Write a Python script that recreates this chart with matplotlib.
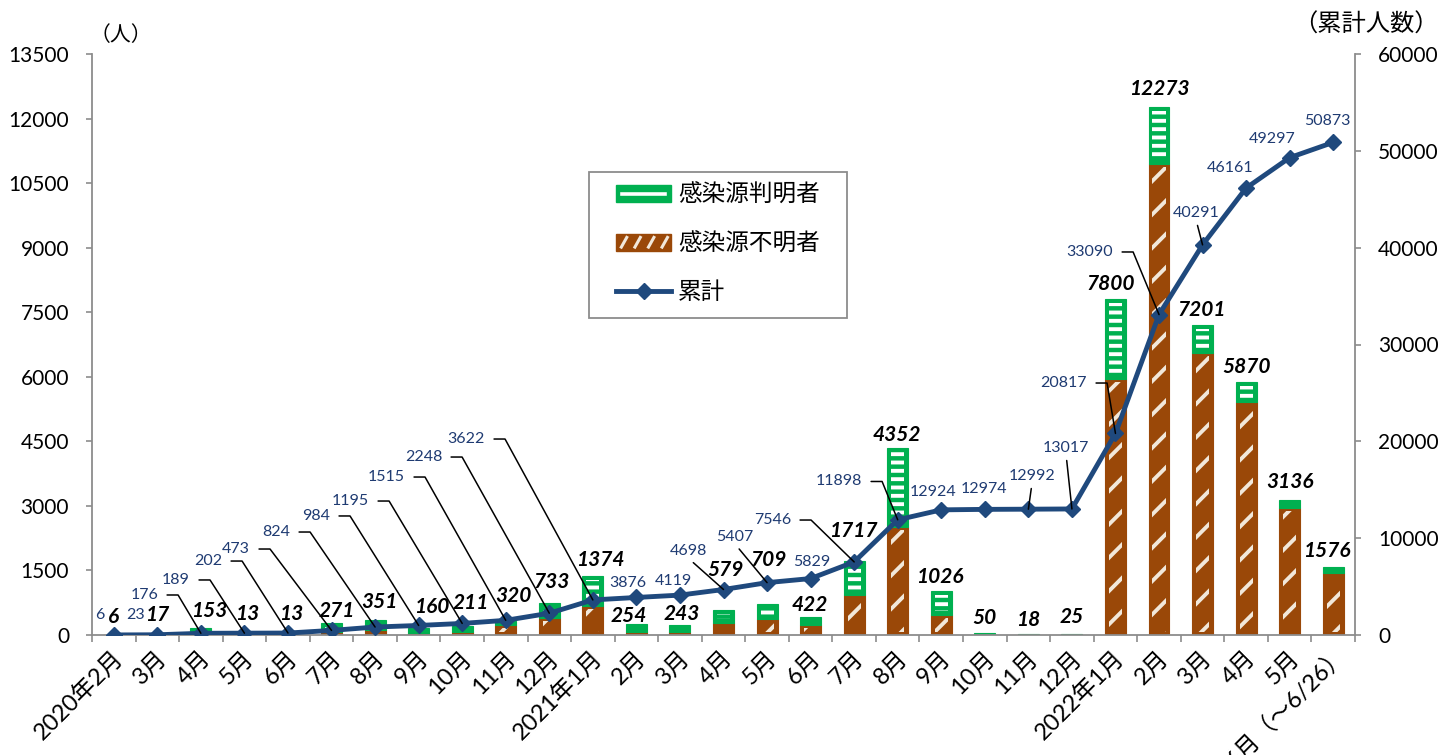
import math
import matplotlib
matplotlib.use("Agg")
import matplotlib.pyplot as plt
from matplotlib.patches import Rectangle
from matplotlib.lines import Line2D
from matplotlib.legend_handler import HandlerBase
from matplotlib.transforms import ScaledTranslation

# ---------------- data ----------------
months = ['2020年2月', '3月', '4月', '5月', '6月', '7月', '8月', '9月', '10月', '11月', '12月',
          '2021年1月', '2月', '3月', '4月', '5月', '6月', '7月', '8月', '9月', '10月', '11月', '12月',
          '2022年1月', '2月', '3月', '4月', '5月', '6月（〜6/26）']
totals = [6, 17, 153, 13, 13, 271, 351, 160, 211, 320, 733, 1374, 254, 243, 579, 709, 422,
          1717, 4352, 1026, 50, 18, 25, 7800, 12273, 7201, 5870, 3136, 1576]
unknown_src = [2, 5, 20, 4, 4, 80, 120, 40, 80, 230, 390, 670, 60, 60, 280, 370, 230,
               930, 2500, 460, 5, 2, 4, 5950, 10950, 6550, 5420, 2950, 1450]
cumulative = [6, 23, 176, 189, 202, 473, 824, 984, 1195, 1515, 2248, 3622, 3876, 4119, 4698,
              5407, 5829, 7546, 11898, 12924, 12974, 12992, 13017, 20817, 33090, 40291,
              46161, 49297, 50873]
known_src = [t - u for t, u in zip(totals, unknown_src)]

left_ticks = list(range(0, 13501, 1500))
right_ticks = list(range(0, 60001, 10000))

# ---------------- label layout (pixels) ----------------
total_off = [(0, 18), (0, 19), (8, 17), (3, 20), (3, 20), (5, 12), (4, 18), (13, 21), (9, 23),
             (8, 25), (2, 21), (7, 16), (-8, 8.5), (2, 11), (2, 40), (2, 44), (-1, 12), (-1, 30),
             (-1, 13), (-1, 14), (0, 15), (0, 14), (0, 17), (-5, 15), (0, 18), (-1, 15), (0, 15),
             (0, 18), (-6, 16)]
cum_off = [('c', -13.7, -20), ('c', -22.3, -20), ('r', -42.8, -38.3), ('r', -54.4, -53.2),
           ('r', -65.9, -72), ('r', -81.5, -81.4), ('r', -85, -95), ('r', -88.6, -109.5),
           ('r', -93.1, -122.4), ('r', -100.7, -143.3), ('r', -107.2, -156.2),
           ('r', -107.8, -160.9), ('c', -8.3, -14.5), ('c', -6.9, -14.1), ('b', -35.4, -38.5),
           ('b', -32, -45.6), ('c', 1.5, -16.6), ('r', -63.1, -41.9), ('r', -35.6, -38.3),
           ('c', -8.2, -17.9), ('c', -0.7, -20.4), ('b', 3.7, -33.2), ('b', -5.8, -61),
           ('r', -28.4, -50.4), ('r', -45.9, -62.6), ('b', -6.5, -31.9), ('c', -16, -20),
           ('c', -17.6, -18.7), ('c', -6.1, -21.4)]

PT = 0.72  # points per pixel at dpi 100

GREEN = '#00B050'
BROWN = '#9A4808'
BEIGE = '#F2E8DA'
BLUE = '#1F497D'
LBLUE = '#1F3B72'
GRAY = '#8C8C8C'
NUMF = ['Lato', 'Noto Sans CJK JP', 'DejaVu Sans']
JPF = ['Noto Sans CJK JP', 'DejaVu Sans']

plt.rcParams['font.family'] = NUMF
plt.rcParams['hatch.linewidth'] = 2.8

fig = plt.figure(figsize=(14.4, 7.55), dpi=100)
ax = fig.add_axes([92 / 1440, 1 - 635 / 755, 1263 / 1440, 581 / 755])
ax2 = ax.twinx()

x = list(range(len(months)))
W = 0.48
WI = 0.30
px_unit = 13500 / 581.0  # data units per pixel (left axis)

# brown (unknown) segment
ax.bar(x, unknown_src, width=W, color=BROWN, edgecolor=BROWN, linewidth=0.8, zorder=2)
with plt.rc_context({'hatch.color': BEIGE}):
    inner_h = [max(u - 6 * px_unit, 0) for u in unknown_src]
    inner_b = [3 * px_unit if u > 6 * px_unit else 0 for u in unknown_src]
    ax.bar(x, inner_h, bottom=inner_b, width=WI, facecolor='none', hatch='/', linewidth=0, zorder=3)

# green (known) segment
ax.bar(x, known_src, bottom=unknown_src, width=W, color=GREEN, edgecolor=GREEN, linewidth=0.8, zorder=2)
with plt.rc_context({'hatch.color': 'white'}):
    gin_h = [max(k - 8 * px_unit, 0) for k in known_src]
    gin_b = [u + 4 * px_unit for u in unknown_src]
    ax.bar(x, gin_h, bottom=gin_b, width=WI, facecolor='none', hatch='--', linewidth=0, zorder=3)

# total labels
for i, t in enumerate(totals):
    dx, dy = total_off[i]
    ax.annotate(str(t), xy=(i, t), xytext=(dx * PT, dy * PT), textcoords='offset points',
                ha='center', va='center', fontsize=15, fontweight='bold', fontstyle='italic',
                color='black', zorder=6)

# cumulative line
ax2.plot(x, cumulative, color=BLUE, lw=3.5, marker='D', ms=8.5, mec=BLUE, mfc=BLUE, zorder=5)

GAP, STUB = 9, 11
for i, c in enumerate(cumulative):
    style, dx, dy = cum_off[i]
    ox, oy = dx * PT, -dy * PT
    if style == 'c':
        ax2.annotate(str(c), xy=(i, c), xytext=(ox, oy), textcoords='offset points',
                     ha='center', va='center', fontsize=11.5, color=LBLUE, zorder=6)
    elif style == 'r':
        cx = ox + (GAP + STUB) * PT
        angB = math.degrees(math.atan2(oy, cx))
        ax2.annotate(str(c), xy=(i, c), xytext=(ox, oy), textcoords='offset points',
                     ha='right', va='center', fontsize=11.5, color=LBLUE, zorder=6,
                     arrowprops=dict(arrowstyle='-', color='black', lw=1.1,
                                     shrinkA=max(GAP * PT - 2, 0), shrinkB=0, relpos=(1, 0.5),
                                     connectionstyle=f'angle,angleA=0,angleB={angB},rad=0'))
    else:
        ax2.annotate(str(c), xy=(i, c), xytext=(ox, oy), textcoords='offset points',
                     ha='center', va='center', fontsize=11.5, color=LBLUE, zorder=6,
                     arrowprops=dict(arrowstyle='-', color='black', lw=1.1,
                                     shrinkA=2, shrinkB=0, relpos=(0.5, 0)))

# axes formatting
ax.set_xlim(-0.5, len(months) - 0.5)
ax.set_ylim(0, 13500)
ax2.set_ylim(0, 60000)
ax.set_yticks(left_ticks)
ax2.set_yticks(right_ticks)
ax.set_xticks(x)
ax.set_xticklabels(months, rotation=45, ha='right', va='center', rotation_mode='anchor',
                   fontsize=17)
ax.set_xticks([i - 0.5 for i in range(len(months) + 1)], minor=True)
ax.tick_params(axis='x', which='major', length=0, pad=14)
ax.tick_params(axis='x', which='minor', length=5, color=GRAY, width=1.2, direction='out')
ax.tick_params(axis='y', length=4.5, color=GRAY, width=1.2, labelsize=15, pad=12)
ax2.tick_params(axis='y', length=4.5, color=GRAY, width=1.2, labelsize=15, pad=12)

for a in (ax, ax2):
    a.spines['top'].set_visible(False)
    for s in ('left', 'right', 'bottom'):
        a.spines[s].set_color(GRAY)
        a.spines[s].set_linewidth(1.3)
ax2.spines['left'].set_visible(False)
ax2.spines['bottom'].set_visible(False)
ax.spines['right'].set_visible(False)

off = ScaledTranslation(6 / 100, 0, fig.dpi_scale_trans)
off_last = ScaledTranslation(10 / 100, 4 / 100, fig.dpi_scale_trans)
labs = ax.get_xticklabels()
for k, lab in enumerate(labs):
    lab.set_transform(lab.get_transform() + (off_last if k == len(labs) - 1 else off))

# unit labels
fig.text(121 / 1440, 1 - 35 / 755, '（人）', ha='center', va='center', fontsize=15, family=JPF)
fig.text(1366 / 1440, 1 - 25 / 755, '（累計人数）', ha='center', va='center', fontsize=17.5, family=JPF)


# legend handlers
class HandlerKnown(HandlerBase):
    def create_artists(self, legend, orig_handle, xdescent, ydescent, width, height, fontsize, trans):
        x0, y0 = -xdescent, -ydescent
        r = Rectangle((x0, y0), width, height, facecolor=GREEN, edgecolor=GREEN, lw=1,
                      transform=trans)
        ln = Line2D([x0 + width * 0.1, x0 + width * 0.9], [y0 + height / 2] * 2,
                    color='white', lw=2.6, transform=trans)
        return [r, ln]


class HandlerUnknown(HandlerBase):
    def create_artists(self, legend, orig_handle, xdescent, ydescent, width, height, fontsize, trans):
        x0, y0 = -xdescent, -ydescent
        arts = [Rectangle((x0, y0), width, height, facecolor=BROWN, edgecolor=BROWN, lw=1,
                          transform=trans)]
        for k in range(4):
            cx = x0 + width * (0.14 + 0.25 * k)
            arts.append(Line2D([cx - width * 0.05, cx + width * 0.05],
                               [y0 + height * 0.22, y0 + height * 0.78],
                               color=BEIGE, lw=2.2, transform=trans))
        return arts


class KnownKey:
    pass


class UnknownKey:
    pass


h_line = Line2D([], [], color=BLUE, lw=3.5, marker='D', ms=8.5, mfc=BLUE, mec=BLUE)
leg = ax2.legend([KnownKey(), UnknownKey(), h_line],
                 ['感染源判明者', '感染源不明者', '累計'],
                 handler_map={KnownKey: HandlerKnown(), UnknownKey: HandlerUnknown()},
                 loc='center', bbox_to_anchor=(718 / 1440, 1 - 244 / 755),
                 bbox_transform=fig.transFigure, frameon=False,
                 prop=dict(family=JPF, size=17), handlelength=2.3, handleheight=0.75,
                 handletextpad=0.3, labelspacing=1.08, borderpad=0)
fig.patches.append(Rectangle((589 / 1440, 1 - 318 / 755), 258 / 1440, 146 / 755,
                             transform=fig.transFigure, fill=False, edgecolor=GRAY,
                             linewidth=1.3, figure=fig))

fig.savefig('out.png', dpi=100)
